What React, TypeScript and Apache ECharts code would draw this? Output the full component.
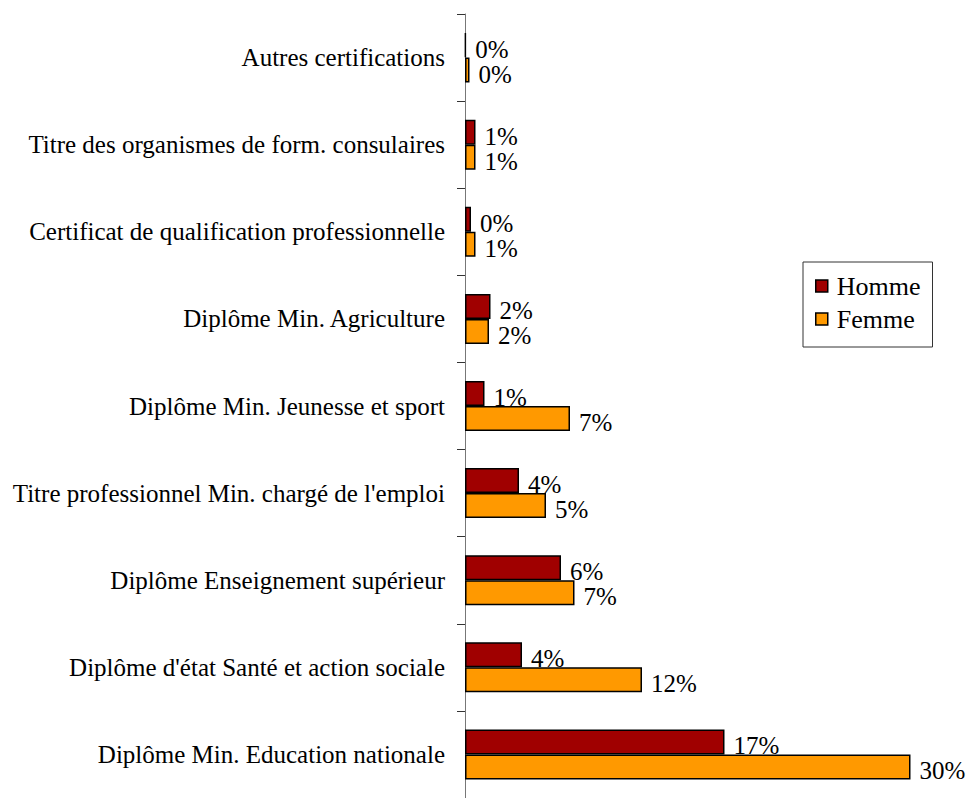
import React, { useEffect, useRef } from "react";
import * as echarts from "echarts";

const categories = [
  "Autres certifications",
  "Titre des organismes de form. consulaires",
  "Certificat de qualification professionnelle",
  "Diplôme Min. Agriculture",
  "Diplôme Min. Jeunesse et sport",
  "Titre professionnel Min. chargé de l'emploi",
  "Diplôme Enseignement supérieur",
  "Diplôme d'état Santé et action sociale",
  "Diplôme Min. Education nationale",
];

const homme = [0.05, 0.7, 0.4, 1.7, 1.3, 3.6, 6.4, 3.8, 17.3];
const femme = [0.3, 0.7, 0.7, 1.6, 7.0, 5.4, 7.3, 11.8, 29.7];

const FONT = "Liberation Serif";

export default function App() {
  const ref = useRef<HTMLDivElement>(null);
  useEffect(() => {
    if (!ref.current) return;
    const chart = echarts.init(ref.current, undefined, { renderer: "svg" });
    const label = {
      show: true,
      position: "right" as const,
      distance: 9,
      offset: [0, 4],
      color: "#000",
      fontFamily: FONT,
      fontSize: 25,
      lineHeight: 20,
      formatter: (p: any) => Math.round(p.value) + "%",
    };
    chart.setOption({
      animation: false,
      backgroundColor: "#fff",
      textStyle: { fontFamily: FONT },
      legend: {
        orient: "vertical",
        left: 803,
        top: 262,
        padding: [11, 12, 15, 12],
        itemGap: 7,
        itemWidth: 12,
        itemHeight: 12,
        borderColor: "#333",
        borderWidth: 1,
        icon: "rect",
        textStyle: {
          fontFamily: FONT,
          fontSize: 26,
          lineHeight: 26,
          color: "#000",
          padding: [0, 0, 0, 4],
        },
        data: [
          { name: "Homme", itemStyle: { borderColor: "#000", borderWidth: 1.5 } },
          { name: "Femme", itemStyle: { borderColor: "#000", borderWidth: 1.5 } },
        ],
      },
      grid: { left: 465, top: 14, width: 480, bottom: -6, containLabel: false },
      xAxis: {
        type: "value",
        min: 0,
        max: 32,
        show: false,
      },
      yAxis: {
        type: "category",
        inverse: true,
        data: categories,
        axisLine: { show: true, lineStyle: { color: "#777", width: 1 } },
        axisTick: { show: true, length: 8, lineStyle: { color: "#333" } },
        axisLabel: {
          margin: 20,
          color: "#000",
          fontFamily: FONT,
          fontSize: 25,
        },
        splitLine: { show: false },
      },
      series: [
        {
          name: "Homme",
          type: "bar",
          data: homme,
          barWidth: 25,
          barGap: "0%",
          itemStyle: { color: "#A00000", borderColor: "#000", borderWidth: 1.5 },
          label,
        },
        {
          name: "Femme",
          type: "bar",
          data: femme,
          barWidth: 25,
          barGap: "0%",
          itemStyle: { color: "#FF9900", borderColor: "#000", borderWidth: 1.5 },
          label,
        },
      ],
    });
    return () => chart.dispose();
  }, []);
  return (
    <div
      ref={ref}
      style={{ position: "fixed", left: 0, top: 0, width: 973, height: 798 }}
    />
  );
}
